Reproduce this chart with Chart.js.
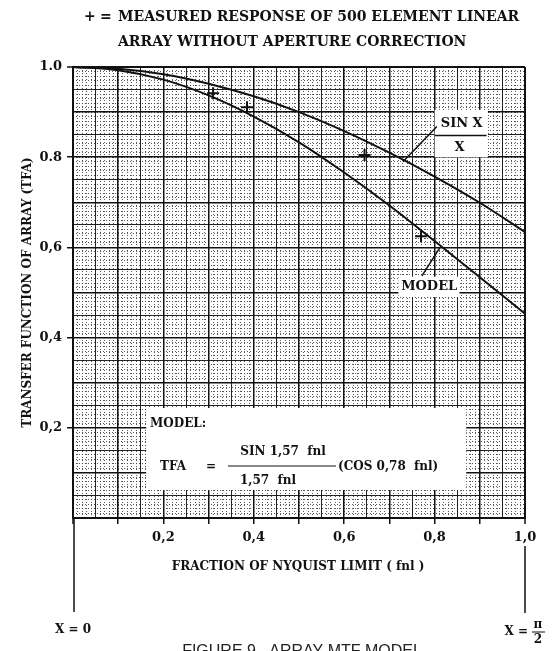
<!DOCTYPE html>
<html lang="en">
<head>
<meta charset="UTF-8">
<title>Array MTF model</title>
<script src="https://cdn.jsdelivr.net/npm/chart.js"></script>
<style>
  body { margin: 0; background: #fff; }
  #wrap { width: 556px; height: 651px; }
</style>
</head>
<body>
<div id="wrap"><canvas id="mtfChart"></canvas></div>
<script>
// fraction of Nyquist limit and the two transfer function curves
const fnl = [0, 0.1, 0.2, 0.3, 0.4, 0.5, 0.6, 0.7, 0.8, 0.9, 1.0];
const sincTfa = [1.000, 0.996, 0.984, 0.963, 0.935, 0.900, 0.858, 0.810, 0.757, 0.699, 0.634];
const modelTfa = [1.000, 0.993, 0.972, 0.937, 0.890, 0.833, 0.766, 0.693, 0.614, 0.534, 0.453];

// measured response, 500 element linear array
const measuredFnl = [0.31, 0.385, 0.645, 0.77];
const measuredTfa = [0.942, 0.911, 0.805, 0.625];

// tick labels
const xTickValues = [0.2, 0.4, 0.6, 0.8, 1.0];
const xTickLabels = ['0,2', '0,4', '0,6', '0,8', '1,0'];
const yTickValues = [0.2, 0.4, 0.6, 0.8, 1.0];
const yTickLabels = ['0,2', '0,4', '0,6', '0.8', '1.0'];

const SERIF = '"DejaVu Serif", "Liberation Serif", serif';

function near(a, b) { return Math.abs(a - b) < 1e-6; }
function tickLabel(values, labels, v) {
  const i = values.findIndex(t => near(t, v));
  return i < 0 ? '' : labels[i];
}
function isTenth(v) { return near(Math.round(v * 10) / 10, v); }
function gridWidth(ctx) {
  const v = ctx.tick ? ctx.tick.value : 0;
  if (near(v, 0) || near(v, 1)) return 2;
  return isTenth(v) ? 1.5 : 0.9;
}

const toPoints = (xs, ys) => xs.map((x, i) => ({ x: x, y: ys[i] }));

// white canvas behind everything
const paper = {
  id: 'paper',
  beforeDraw(chart) {
    const c = chart.ctx;
    c.save();
    c.fillStyle = '#fff';
    c.fillRect(0, 0, chart.width, chart.height);
    c.restore();
  }
};

// titles, curve labels, formula box and the X scale under the axis
const notes = {
  id: 'notes',
  afterDraw(chart) {
    const c = chart.ctx;
    const xs = chart.scales.x, ys = chart.scales.y;
    const px = v => xs.getPixelForValue(v);
    const py = v => ys.getPixelForValue(v);
    c.save();
    c.fillStyle = '#111';
    c.strokeStyle = '#111';
    c.textBaseline = 'middle';

    // heading
    c.font = 'bold 14px ' + SERIF;
    c.textAlign = 'left';
    c.fillText('+', 84, 17);
    c.fillText('=', 100, 17);
    c.fillText('MEASURED RESPONSE OF 500 ELEMENT LINEAR', 118, 17);
    c.fillText('ARRAY WITHOUT APERTURE CORRECTION', 118, 42);

    // axis titles
    c.font = 'bold 12px ' + SERIF;
    c.textAlign = 'center';
    c.save();
    c.translate(28, (ys.top + ys.bottom) / 2);
    c.rotate(-Math.PI / 2);
    c.fillText('TRANSFER FUNCTION OF ARRAY (TFA)', 0, 0);
    c.restore();
    c.fillText('FRACTION OF NYQUIST LIMIT ( fnl )', 298, 567);

    // sin x / x label
    c.fillStyle = '#fff';
    c.fillRect(px(0.80), py(0.905), px(0.918) - px(0.80), py(0.80) - py(0.905));
    c.fillStyle = '#111';
    c.font = 'bold 13px ' + SERIF;
    c.fillText('SIN X', px(0.86), py(0.875));
    c.fillText('X', px(0.855), py(0.822));
    c.lineWidth = 1.5;
    c.beginPath();
    c.moveTo(px(0.80), py(0.848));
    c.lineTo(px(0.915), py(0.848));
    c.moveTo(px(0.73), py(0.79));
    c.lineTo(px(0.805), py(0.868));
    c.stroke();

    // model label
    c.fillStyle = '#fff';
    c.fillRect(px(0.72), py(0.535), px(0.855) - px(0.72), py(0.49) - py(0.535));
    c.fillStyle = '#111';
    c.fillText('MODEL', px(0.788), py(0.512));
    c.beginPath();
    c.moveTo(px(0.812), py(0.60));
    c.lineTo(px(0.772), py(0.537));
    c.stroke();

    // formula box
    const bx = px(0.162), by = py(0.244);
    c.fillStyle = '#fff';
    c.fillRect(bx, by, px(0.87) - bx, py(0.062) - by);
    c.fillStyle = '#111';
    c.textAlign = 'left';
    c.font = 'bold 12px ' + SERIF;
    c.fillText('MODEL:', 150, 424);
    c.fillText('TFA', 160, 467);
    c.fillText('=', 206, 467);
    c.textAlign = 'center';
    c.fillText('SIN 1,57  fnl', 283, 452);
    c.fillText('1,57  fnl', 268, 481);
    c.textAlign = 'left';
    c.fillText('(COS 0,78  fnl)', 338, 467);
    c.lineWidth = 1.2;
    c.beginPath();
    c.moveTo(228, 466);
    c.lineTo(336, 466);
    c.stroke();

    // X = 0 ... X = pi/2 under the axis
    c.lineWidth = 1.5;
    c.beginPath();
    c.moveTo(px(0) + 1, ys.bottom);
    c.lineTo(px(0) + 1, 612);
    c.moveTo(px(1), 546);
    c.lineTo(px(1), 613);
    c.stroke();
    c.font = 'bold 12px ' + SERIF;
    c.textAlign = 'center';
    c.fillText('X = 0', px(0), 630);
    c.textAlign = 'right';
    c.fillText('X =', 528, 632);
    c.textAlign = 'center';
    c.fillText('\u03C0', 538, 625);
    c.fillText('2', 538, 640);
    c.lineWidth = 1;
    c.beginPath();
    c.moveTo(532, 632);
    c.lineTo(545, 632);
    c.stroke();

    // caption (runs off the lower edge)
    c.fillStyle = '#222';
    c.font = '16px "Liberation Sans", Arial, sans-serif';
    c.textBaseline = 'alphabetic';
    c.fillText('FIGURE 9.  ARRAY MTF MODEL', 302, 656);
    c.restore();
  }
};

const fineGrid = (axis) => ({
  type: 'linear',
  position: axis === 'x' ? 'bottom' : 'left',
  min: 0, max: 1,
  ticks: { display: false, stepSize: 0.01, autoSkip: false },
  grid: { color: '#444', lineWidth: 0.9, drawTicks: false, z: -1 },
  border: { display: false, dash: [1, 2] },
  afterFit(scale) { if (axis === 'x') scale.height = 0; else scale.width = 0; }
});

new Chart(document.getElementById('mtfChart'), {
  type: 'line',
  data: {
    datasets: [
      {
        label: 'SIN X / X',
        data: toPoints(fnl, sincTfa),
        borderColor: '#111',
        borderWidth: 2,
        pointRadius: 0,
        cubicInterpolationMode: 'monotone',
        clip: 4
      },
      {
        label: 'MODEL',
        data: toPoints(fnl, modelTfa),
        borderColor: '#111',
        borderWidth: 2,
        pointRadius: 0,
        cubicInterpolationMode: 'monotone',
        clip: 4
      },
      {
        type: 'scatter',
        label: 'MEASURED',
        data: toPoints(measuredFnl, measuredTfa),
        pointStyle: 'cross',
        pointRadius: 6,
        borderColor: '#111',
        borderWidth: 2,
        showLine: false
      }
    ]
  },
  options: {
    responsive: true,
    maintainAspectRatio: false,
    animation: false,
    layout: { padding: { top: 67, right: 31, left: 0, bottom: 0 } },
    plugins: { legend: { display: false }, tooltip: { enabled: false } },
    scales: {
      xf: fineGrid('x'),
      yf: fineGrid('y'),
      x: {
        type: 'linear',
        min: 0, max: 1,
        ticks: {
          stepSize: 0.05,
          autoSkip: false,
          maxRotation: 0,
          padding: 6,
          color: '#111',
          font: { family: SERIF, size: 13, weight: 'bold' },
          callback: v => tickLabel(xTickValues, xTickLabels, v)
        },
        grid: {
          color: '#111',
          lineWidth: gridWidth,
          tickLength: 6,
          tickColor: ctx => (ctx.tick && isTenth(ctx.tick.value) ? '#111' : 'rgba(0,0,0,0)'),
          tickWidth: 1.5
        },
        border: { color: '#111', width: 2 },
        afterFit(scale) { scale.height = 133; }
      },
      y: {
        type: 'linear',
        min: 0, max: 1,
        ticks: {
          stepSize: 0.05,
          autoSkip: false,
          padding: 5,
          color: '#111',
          font: { family: SERIF, size: 13, weight: 'bold' },
          callback: v => tickLabel(yTickValues, yTickLabels, v)
        },
        grid: {
          color: '#111',
          lineWidth: gridWidth,
          tickLength: 6,
          tickColor: ctx => (ctx.tick && tickLabel(yTickValues, yTickLabels, ctx.tick.value) ? '#111' : 'rgba(0,0,0,0)'),
          tickWidth: 1.5
        },
        border: { color: '#111', width: 2 },
        afterFit(scale) { scale.width = 73; }
      }
    }
  },
  plugins: [paper, notes]
});
</script>
</body>
</html>
